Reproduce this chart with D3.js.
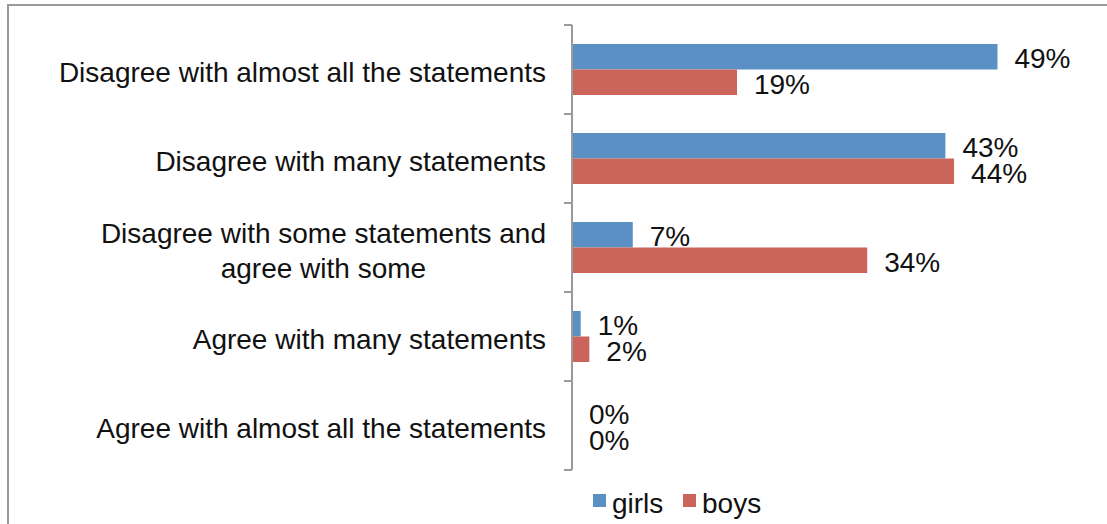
<!DOCTYPE html>
<html>
<head>
<meta charset="utf-8">
<script src="https://cdn.jsdelivr.net/npm/d3@7"></script>
<style>
  html, body { margin: 0; padding: 0; background: #fff; }
  svg { display: block; font-family: "Liberation Sans", Arial, sans-serif; }
</style>
</head>
<body>
<svg id="chart" width="1107" height="524"></svg>
<script>
// Answer categories, top to bottom (each entry is a list of label lines)
const categories = [
  ["Disagree with almost all the statements"],
  ["Disagree with many statements"],
  ["Disagree with some statements and", "agree with some"],
  ["Agree with many statements"],
  ["Agree with almost all the statements"]
];
const seriesNames = ["girls", "boys"];
const girls = [49, 43, 7, 1, 0];
const boys  = [19, 44, 34, 2, 0];
const colors = ["#5b90c5", "#cb645a"];

const svg = d3.select("#chart");
const W = 1107, H = 524;
const FS = 28;

// outer frame (continues past the right and bottom edges)
svg.append("path")
  .attr("d", `M8,${H + 5} V5 H${W + 5}`)
  .attr("fill", "none")
  .attr("stroke", "#9a9a9a")
  .attr("stroke-width", 2);

const x0 = 572, yTop = 25, yBottom = 470;
const x = d3.scaleLinear().domain([0, 60]).range([x0, x0 + 521]);
const y = d3.scaleBand().domain(d3.range(categories.length)).range([yTop, yBottom]).padding(0);
const ySub = d3.scaleBand().domain(seriesNames).range([19, 70]).padding(0);

const rows = categories.map((c, i) => ({ i, values: [girls[i], boys[i]] }));

// bars with value labels
const g = svg.append("g");
rows.forEach(r => {
  seriesNames.forEach((s, k) => {
    const v = r.values[k];
    const yy = y(r.i) + ySub(s);
    g.append("rect")
      .attr("x", x(0))
      .attr("y", yy)
      .attr("width", x(v) - x(0))
      .attr("height", ySub.bandwidth())
      .attr("fill", colors[k]);
    g.append("text")
      .attr("x", x(v) + 17)
      .attr("y", yy + ySub.bandwidth() / 2 + 11.5)
      .attr("font-size", FS)
      .attr("fill", "#111")
      .text(v + "%");
  });
});

// category axis with outward ticks at band boundaries
const axisG = svg.append("g").attr("stroke", "#9a9a9a").attr("stroke-width", 2);
axisG.append("line").attr("x1", x0).attr("x2", x0).attr("y1", yTop).attr("y2", yBottom);
d3.range(categories.length + 1).forEach(k => {
  const yy = k < categories.length ? y(k) : yBottom;
  axisG.append("line").attr("x1", x0 - 8).attr("x2", x0).attr("y1", yy).attr("y2", yy);
});

// category labels, right-aligned block; multi-line labels centred within the block
const labelRight = 546;
categories.forEach((lines, i) => {
  const cy = y(i) + y.bandwidth() / 2;
  const t = svg.append("text").attr("font-size", FS).attr("fill", "#111");
  const lh = 35;
  const first = cy + 12.5 - (lines.length - 1) * lh / 2;
  const spans = lines.map((ln, j) =>
    t.append("tspan").attr("y", first + j * lh).text(ln));
  if (lines.length === 1) {
    t.attr("text-anchor", "end");
    spans[0].attr("x", labelRight);
  } else {
    const widths = spans.map(sp => sp.node().getComputedTextLength());
    const maxW = d3.max(widths);
    t.attr("text-anchor", "middle");
    spans.forEach(sp => sp.attr("x", labelRight - maxW / 2));
  }
});

// legend
const legend = svg.append("g");
const legendX = [593, 683];
seriesNames.forEach((s, k) => {
  legend.append("rect")
    .attr("x", legendX[k]).attr("y", 494)
    .attr("width", 13).attr("height", 13)
    .attr("fill", colors[k]);
  legend.append("text")
    .attr("x", legendX[k] + 19).attr("y", 513)
    .attr("font-size", FS).attr("fill", "#111")
    .text(s);
});
</script>
</body>
</html>
